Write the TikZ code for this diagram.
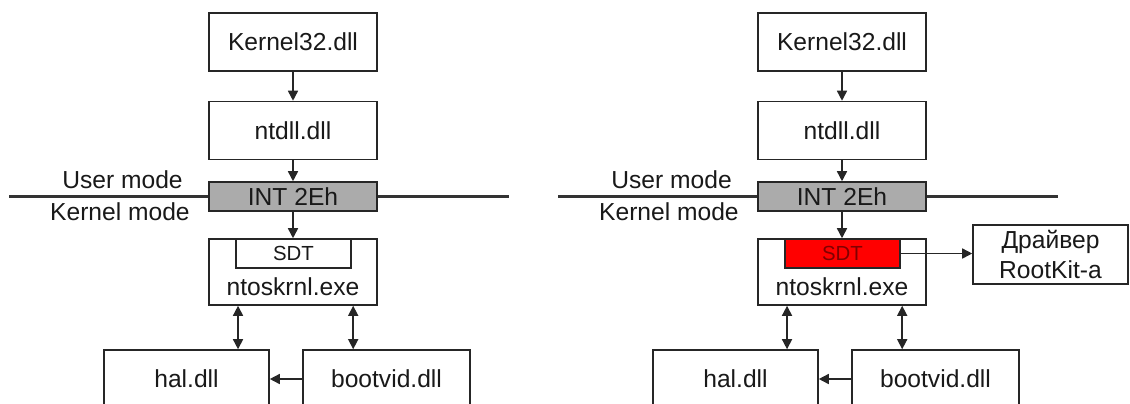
\documentclass[tikz,border=0pt]{standalone}
\usepackage{fontspec}
\setmainfont{Liberation Sans}
\usetikzlibrary{arrows.meta, positioning}

\begin{document}
\begin{tikzpicture}[x=0.025cm, y=-0.025cm,
  tri/.tip={Triangle[length=0.25cm, width=0.25cm]},
  blk/.style={draw=black!85, line width=1.1pt, fill=white, text=black!90, minimum width=4.2cm, minimum height=1.45cm, font=\fontsize{17.5}{21}\selectfont, inner sep=0pt},
  gate/.style={blk, fill=black!33, minimum height=0.725cm},
  tbl/.style={draw=black!85, line width=1.1pt, fill=white, text=black!90, minimum width=2.875cm, minimum height=0.725cm, font=\fontsize{14.5}{16}\selectfont, inner sep=0pt},
  hot/.style={tbl, fill=red, text=red!50!black},
  lbl/.style={font=\fontsize{17.5}{20}\selectfont, text=black!90, inner sep=0pt},
  ar/.style={draw=black!85, line width=1.1pt, -tri},
  dar/.style={draw=black!85, line width=1.1pt, tri-tri},
  mode/.style={draw=black!80, line width=1.8pt}]
  \useasboundingbox (0,0) rectangle (1130,403);
  \clip (0,0) rectangle (1130,403);
  % both panels, the right one with the hooked SDT
  \foreach \s/\dx/\sty in {a/0/tbl, b/549/hot} {
    \coordinate (ml\s) at (9+\dx,196.5);
    \coordinate (mr\s) at (509+\dx,196.5);
    \draw[mode] (ml\s) -- (mr\s);
    \node[blk] (k32\s) at (293+\dx,42) {Kernel32.dll};
    \node[blk] (ntdll\s) at (293+\dx,130.5) {ntdll.dll};
    \node[gate] (int\s) at (293+\dx,196.5) {INT 2Eh};
    \node[lbl, anchor=east] (um\s) at (183+\dx,180) {User mode};
    \node[lbl, anchor=east] (km\s) at (190+\dx,212) {Kernel mode};
    \node[blk, minimum height=1.65cm] (ntos\s) at (293+\dx,272) {};
    \node[\sty] (sdt\s) at (293.5+\dx,253.5) {SDT};
    \node[lbl] (ntosl\s) at (293+\dx,287) {ntoskrnl.exe};
    \node[blk, minimum width=4.125cm] (hal\s) at (186.5+\dx,379) {hal.dll};
    \node[blk, minimum width=4.175cm] (boot\s) at (386.5+\dx,379) {bootvid.dll};
    \draw[ar] (k32\s) -- (ntdll\s);
    \draw[ar] (ntdll\s) -- (int\s);
    \draw[ar] (int\s) -- (ntos\s);
    \draw[dar] ([xshift=2pt]sdt\s.west |- ntos\s.south) -- ([xshift=2pt]sdt\s.west |- hal\s.north);
    \draw[dar] ([xshift=1pt]sdt\s.east |- ntos\s.south) -- ([xshift=1pt]sdt\s.east |- boot\s.north);
    \draw[ar] (boot\s) -- (hal\s);
  }
  \node[blk, minimum width=3.875cm, minimum height=1.475cm, align=center] (rk) at (1050.5,254.5) {Драйвер\\RootKit-a};
  \draw[ar] (sdtb.east) -- (sdtb.east -| rk.west);
\end{tikzpicture}
\end{document}
